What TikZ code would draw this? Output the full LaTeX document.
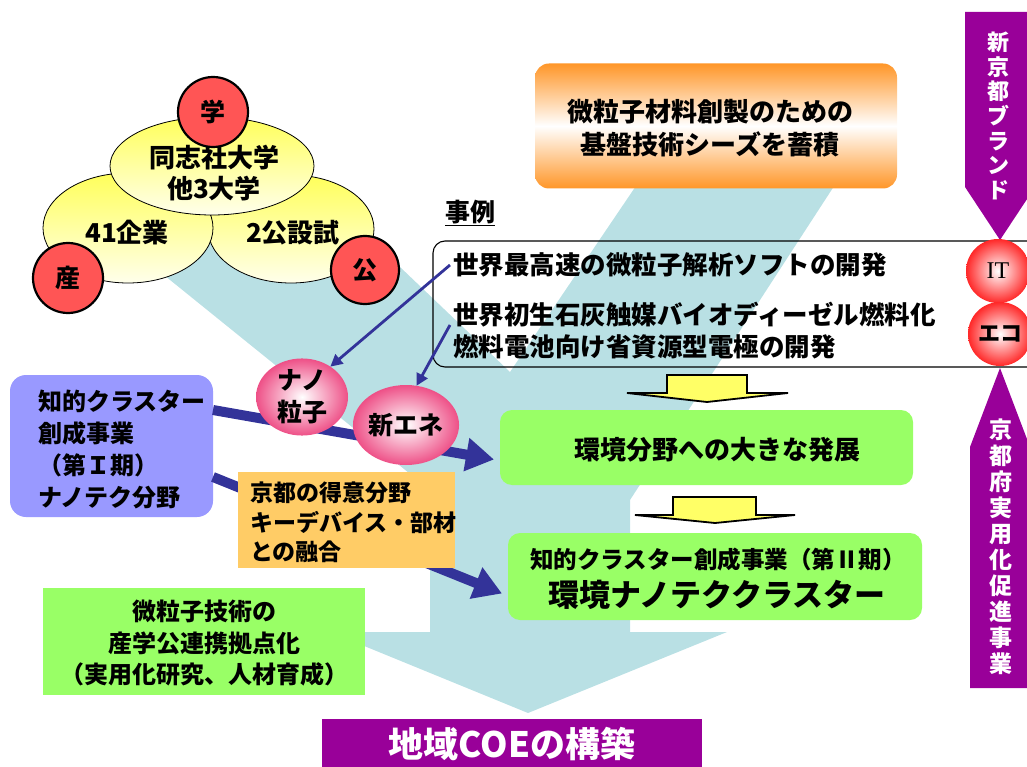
\documentclass[tikz,border=0pt]{standalone}
\usepackage{fontspec}
\setmainfont{Noto Sans CJK JP}
\newfontfamily\itfont{Liberation Serif}
\usetikzlibrary{arrows.meta,shapes.geometric}
\definecolor{bandblue}{RGB}{185,224,228}
\definecolor{navy}{RGB}{51,51,153}
\definecolor{boxblue}{RGB}{153,153,255}
\definecolor{boxgreen}{RGB}{153,255,102}
\definecolor{boxorange}{RGB}{255,204,102}
\definecolor{arrowyellow}{RGB}{255,255,102}
\definecolor{circred}{RGB}{255,85,85}
\definecolor{gradorange}{RGB}{255,150,40}
\definecolor{pinkcol}{RGB}{238,80,135}
\definecolor{purplec}{RGB}{153,0,153}
\definecolor{ellyellow}{RGB}{255,255,90}
\definecolor{itred}{RGB}{255,40,40}
\begin{document}
\begin{tikzpicture}[x=1pt,y=-1pt,
  every node/.style={inner sep=0pt, outer sep=0pt},
  jp/.style 2 args={font=\fontsize{#1}{#2}\selectfont\bfseries},
  yell/.style={ellipse, draw=black, line width=0.8pt, top color=ellyellow, bottom color=ellyellow!12},
  redc/.style={circle, draw=black, line width=2.2pt, fill=circred, minimum size=70pt, jp={25}{30}},
  pinkball/.style={ellipse, inner color=white, outer color=pinkcol, jp={25}{32}, align=center},
  redball/.style={circle, minimum size=64pt, inner color=white, outer color=itred},
  thickarrow/.style={draw=navy, line width=10pt, -{Triangle[length=28pt,width=32pt]}},
  thinarrow/.style={draw=navy, line width=2.8pt, -{Triangle[length=12pt,width=12pt]}},
  yarrow/.style={fill=arrowyellow, draw=black, line width=1.8pt, line join=miter},
  greenbox/.style={fill=boxgreen},
]
\useasboundingbox (0,0) rectangle (1027,767);
% background flow arrow
\fill[bandblue] (102,225) -- (356,225) -- (510,372) -- (640,180) -- (838,180) -- (630,500)
  -- (630,632) -- (727,632) -- (528,713) -- (330,632) -- (430,632) -- (430,490) -- cycle;

% industry-academia-government cluster
\node[yell, minimum width=166, minimum height=108] (eR) at (291,229) {};
\node[yell, minimum width=170, minimum height=110] (eL) at (128,228) {};
\node[yell, minimum width=204, minimum height=98] (eT) at (212,166) {};
\node[jp={26}{31}, align=center] (tT) at (214,173) {同志社大学\\他3大学};
\node[jp={26}{31}] (tL) at (127,233) {41企業};
\node[jp={26}{31}] (tR) at (293,233) {2公設試};
\node[redc] (gaku) at (213,112) {学};
\node[redc] (san) at (68,278) {産};
\node[redc, minimum size=68pt] (kou) at (365,270) {公};

% seeds box
\node[rounded corners=14, minimum width=362, minimum height=125,
  top color=gradorange, bottom color=gradorange, middle color=white] (seeds) at (716,126) {};
\node[jp={26}{33}, align=center] (seedst) at (710,128.5) {微粒子材料創製のための\\基盤技術シーズを蓄積};

% purple side bars
\fill[purplec] (965,12) -- (1035,12) -- (1035,187) -- (1000,240) -- (965,187) -- cycle;
\node[jp={22}{24.6}, align=center, text=white] (brand) at (998,116) {新\\京\\都\\ブ\\ラ\\ン\\ド};
\fill[purplec] (1000,368) -- (1030,447) -- (1030,688) -- (970,688) -- (970,447) -- cycle;
\node[jp={23}{26}, align=center, text=white] (jitsuyo) at (1001,547) {京\\都\\府\\実\\用\\化\\促\\進\\事\\業};

% examples
\node[jp={25}{30}] (jirei) at (470,213) {\underline{事例}};
\node[draw=black, line width=1.1pt, rounded corners=12, minimum width=612, minimum height=126, anchor=north west] (exbox) at (433,241) {};
\node[jp={25.5}{32}, anchor=west] (ex1) at (453,265) {世界最高速の微粒子解析ソフトの開発};
\node[jp={25.5}{32}, anchor=west, align=left] (ex2) at (453,331) {世界初生石灰触媒バイオディーゼル燃料化\\燃料電池向け省資源型電極の開発};

% boxes that the thick arrows join
\node[fill=boxblue, rounded corners=16, minimum width=203, minimum height=142] (blue) at (111.5,446) {};
\node[jp={24}{31.7}, align=left, anchor=west] (bluet) at (38,449.5) {知的クラスター\\創成事業\\（第Ｉ期）\\ナノテク分野};
\node[greenbox, rounded corners=12, minimum width=413, minimum height=75] (g1) at (706.5,447.5) {};
\node[jp={26}{30}] (g1t) at (717,450) {環境分野への大きな発展};
\node[greenbox, rounded corners=12, minimum width=414, minimum height=87] (g2) at (715,576.5) {};
\node[jp={23.5}{28}] (g2a) at (718,560) {知的クラスター創成事業（第Ⅱ期）};
\node[jp={31}{36}] (g2b) at (717,595) {環境ナノテククラスター};

% thick arrows
\draw[thickarrow] ([yshift=36pt]blue.east) -- ([xshift=-6pt,yshift=-12pt]g1.west);
\draw[thickarrow] ([yshift=-31pt]blue.east) -- ([xshift=-6pt,yshift=-17pt]g2.west);

% pink circles and thin arrows
\node[pinkball, minimum width=92, minimum height=74] (nano) at (302,397) {ナノ\\粒子};
\node[pinkball, minimum width=87, minimum height=80] (newene) at (406,425) {新エネ};
\draw[thinarrow] ([xshift=-3pt]ex1.west) -- (nano.47);
\draw[thinarrow] ([xshift=-3pt,yshift=6pt]ex2.west) -- (newene.75);

% kyoto box
\node[fill=boxorange, minimum width=217, minimum height=96] (kyoto) at (346.5,520) {};
\node[jp={23}{29.5}, align=left, anchor=west] (kyotot) at (250,522.5) {京都の得意分野\\キーデバイス・部材\\との融合};

% yellow arrows
\draw[yarrow] (667,375) -- (747,375) -- (747,393) -- (788,393) -- (707,402) -- (627,393) -- (667,393) -- cycle;
\draw[yarrow] (673,497) -- (756,497) -- (756,515) -- (795,515) -- (715,523) -- (635,515) -- (673,515) -- cycle;

% green box 3
\node[greenbox, minimum width=322, minimum height=107] (g3) at (204,641.5) {};
\node[jp={24}{31.5}, align=center] (g3t) at (204,643.5) {微粒子技術の\\産学公連携拠点化\\（実用化研究、人材育成）};

% IT / eco
\node[redball] (it) at (998,271) {\itfont\fontsize{24}{24}\selectfont IT};
\node[redball, jp={22}{24}] (eco) at (1000,334) {エコ};

% final goal
\node[fill=purplec, minimum width=380, minimum height=50, text=white, jp={35}{38}] (coe) at (512,744) {地域COEの構築};
\end{tikzpicture}
\end{document}
